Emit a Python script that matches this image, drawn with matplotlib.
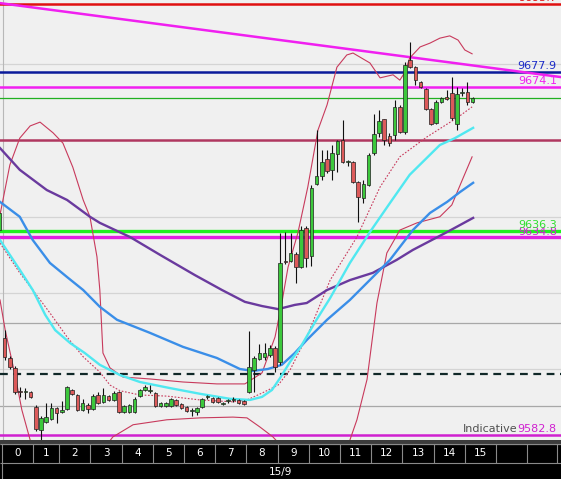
import numpy as np
import matplotlib
matplotlib.use("Agg")
import matplotlib.pyplot as plt

plt.rcParams['font.family'] = ['DejaVu Sans']

# 10-minute candles, index 0..91
opens = [9636.5, 9608.2, 9603.0, 9600.4, 9594.2, 9594.0, 9594.1, 9590.2, 9584.1, 9586.2,
         9587.0, 9589.9, 9588.9, 9589.6, 9594.6, 9593.3, 9589.4, 9590.7, 9589.6, 9593.3,
         9591.5, 9593.0, 9592.0, 9594.1, 9588.9, 9588.9, 9588.9, 9593.0, 9594.6, 9594.4,
         9593.8, 9590.4, 9590.4, 9590.4, 9592.0, 9591.0, 9590.2, 9589.1, 9588.9, 9590.2,
         9592.8, 9592.5, 9592.5, 9591.0, 9591.7, 9592.0, 9592.0, 9591.7, 9594.1, 9599.9,
         9602.7, 9603.3, 9603.8, 9605.6, 9601.9, 9628.2, 9628.4, 9630.3, 9626.8, 9637.1,
         9629.7, 9648.6, 9650.7, 9655.1, 9652.3, 9656.5, 9660.1, 9654.4, 9654.4, 9649.1,
         9644.9, 9648.3, 9656.7, 9662.0, 9665.6, 9661.2, 9661.4, 9668.8, 9662.2, 9681.1,
         9679.2, 9675.3, 9673.5, 9668.2, 9664.6, 9670.1, 9671.4, 9672.4, 9664.3, 9672.4,
         9672.7, 9670.1]
highs = [9641.8, 9610.3, 9603.5, 9600.9, 9595.4, 9595.1, 9594.4, 9590.7, 9587.8, 9591.2,
         9591.2, 9590.2, 9591.7, 9595.7, 9594.9, 9593.6, 9592.3, 9591.2, 9593.6, 9594.1,
         9595.1, 9593.3, 9594.4, 9594.4, 9590.7, 9591.0, 9592.8, 9594.9, 9595.9, 9595.9,
         9594.1, 9591.5, 9591.5, 9592.5, 9592.3, 9591.2, 9590.4, 9589.9, 9590.2, 9592.5,
         9593.3, 9592.8, 9592.8, 9591.5, 9592.3, 9592.8, 9592.3, 9592.0, 9610.1, 9603.5,
         9606.7, 9606.9, 9606.4, 9606.1, 9635.8, 9636.0, 9635.8, 9630.8, 9637.6, 9637.6,
         9648.3, 9662.7, 9657.5, 9657.5, 9658.8, 9660.1, 9665.4, 9654.9, 9654.6, 9649.4,
         9649.6, 9656.7, 9666.9, 9668.0, 9665.6, 9662.0, 9670.6, 9669.3, 9680.6, 9685.8,
         9679.5, 9675.6, 9673.7, 9668.5, 9670.6, 9671.4, 9673.2, 9676.6, 9674.0, 9673.7,
         9675.3, 9671.4]
lows = [9636.0, 9602.5, 9600.1, 9593.6, 9592.8, 9592.3, 9592.5, 9583.9, 9581.5, 9586.0,
        9586.8, 9586.0, 9588.6, 9589.4, 9593.3, 9589.1, 9589.1, 9588.6, 9589.4, 9591.0,
        9591.2, 9591.7, 9591.7, 9588.6, 9588.6, 9588.6, 9588.6, 9592.8, 9594.4, 9593.8,
        9590.2, 9590.2, 9590.2, 9590.2, 9590.4, 9589.6, 9588.9, 9587.8, 9588.1, 9589.9,
        9592.3, 9591.2, 9591.2, 9590.7, 9591.2, 9591.5, 9591.0, 9590.7, 9593.8, 9594.1,
        9602.5, 9602.5, 9603.3, 9599.3, 9601.2, 9627.6, 9628.2, 9622.7, 9626.6, 9626.8,
        9627.1, 9648.3, 9649.6, 9651.5, 9649.6, 9651.7, 9654.1, 9653.3, 9648.9, 9638.6,
        9643.6, 9648.1, 9656.2, 9660.9, 9658.8, 9658.5, 9660.1, 9662.0, 9661.7, 9679.0,
        9674.5, 9673.7, 9668.0, 9664.0, 9664.3, 9669.8, 9670.6, 9665.4, 9662.7, 9671.6,
        9669.3, 9669.8]
closes = [9641.0, 9603.3, 9600.6, 9594.1, 9594.0, 9594.1, 9592.8, 9584.4, 9587.3, 9587.5,
          9589.9, 9588.6, 9589.4, 9595.4, 9593.6, 9589.4, 9591.2, 9589.6, 9593.0, 9591.2,
          9593.3, 9592.0, 9593.8, 9588.9, 9590.4, 9590.7, 9592.3, 9594.6, 9595.4, 9594.5,
          9590.4, 9591.2, 9591.2, 9592.3, 9590.7, 9589.9, 9589.1, 9589.2, 9589.9, 9592.3,
          9592.9, 9591.5, 9591.5, 9591.2, 9591.8, 9592.1, 9591.2, 9591.0, 9600.6, 9603.0,
          9604.3, 9604.3, 9605.6, 9600.6, 9627.9, 9628.1, 9630.5, 9626.8, 9636.5, 9629.2,
          9647.5, 9650.7, 9654.4, 9652.0, 9656.7, 9659.9, 9654.4, 9654.5, 9649.1, 9645.2,
          9648.6, 9656.2, 9661.7, 9665.1, 9660.1, 9659.3, 9668.8, 9662.2, 9679.8, 9679.2,
          9675.8, 9674.0, 9668.2, 9664.3, 9670.1, 9671.1, 9670.9, 9665.9, 9672.2, 9672.5,
          9670.1, 9671.1]

# indicator lines (candle index, price)
cyan_x = [0.1, 2.0, 3.9, 6.4, 8.8, 10.7, 13.6, 16.4, 19.3, 23.2, 27.0, 32.8, 38.6, 44.3, 48.2,
          50.5, 52.4, 54.0, 55.9, 57.8, 60.7, 63.6, 67.4, 71.25, 75.1, 78.9, 81.8, 84.7, 87.6, 91.1]
cyan_y = [9633.9, 9630.0, 9626.1, 9620.8, 9614.3, 9610.3, 9606.9, 9604.3, 9601.2, 9598.5,
          9596.7, 9595.1, 9593.6, 9592.3, 9592.0, 9592.8, 9594.6, 9597.8, 9602.0, 9605.6,
          9612.4, 9618.7, 9627.9, 9636.0, 9643.6, 9651.0, 9654.9, 9658.8, 9660.6, 9663.3]
blue_x = [0.1, 3.9, 6.4, 9.7, 13.0, 16.1, 19.3, 22.6, 28.9, 35.3, 41.8, 46.25, 48.75, 51.6,
          54.3, 56.8, 59.1, 63.0, 67.4, 71.8, 75.1, 79.5, 82.8, 86.1, 88.6, 91.1]
blue_y = [9643.9, 9640.0, 9633.9, 9627.9, 9624.2, 9620.8, 9616.4, 9613.0, 9609.6, 9605.9,
          9603.0, 9600.1, 9599.6, 9600.1, 9601.2, 9604.3, 9607.7, 9613.0, 9618.2, 9624.2,
          9628.7, 9636.5, 9641.0, 9643.9, 9646.5, 9648.9]
purple_x = [0.1, 3.9, 9.1, 13.0, 17.4, 19.3, 25.1, 30.9, 37.6, 42.8, 47.2, 50.5, 53.6, 56.8,
            59.1, 63.0, 67.4, 71.8, 76.4, 79.5, 86.1, 91.1]
purple_y = [9658.0, 9652.3, 9647.0, 9644.4, 9640.0, 9638.4, 9634.7, 9630.0, 9624.7, 9620.8,
            9617.7, 9616.6, 9615.8, 9616.9, 9617.4, 9620.8, 9623.4, 9625.3, 9628.7, 9631.3,
            9636.0, 9639.7]
bb_up_x = [0.1, 2.0, 3.9, 5.9, 7.8, 10.3, 12.2, 14.1, 16.1, 17.4, 18.75, 19.3, 19.9, 21.25,
           23.75, 28.9, 35.3, 41.8, 47.2, 50.5, 53.0, 54.3, 55.5, 57.4, 59.3, 61.25, 63.0, 64.9,
           66.8, 68.0, 71.25, 73.2, 75.7, 77.0, 78.0, 78.9, 80.9, 82.8, 84.7, 86.6, 88.2, 89.5, 90.9]
bb_up_y = [9640.5, 9653.6, 9660.6, 9663.8, 9664.8, 9662.0, 9659.3, 9653.0, 9644.4, 9640.0,
           9629.5, 9620.8, 9604.3, 9600.4, 9598.0, 9597.5, 9596.7, 9596.2, 9596.2, 9599.1,
           9608.5, 9617.4, 9626.8, 9635.8, 9647.8, 9662.7, 9669.3, 9679.2, 9682.4, 9682.9,
           9680.3, 9676.4, 9677.2, 9675.8, 9677.9, 9681.6, 9684.5, 9685.5, 9686.8, 9687.4,
           9686.3, 9683.7, 9682.7]
bb_mid_x = [0.1, 3.9, 6.4, 9.7, 13.0, 16.1, 19.3, 21.25, 23.2, 27.0, 32.2, 38.6, 44.9, 47.6,
            50.5, 53.6, 55.9, 59.1, 63.6, 68.75, 73.2, 77.0, 82.2, 88.2, 90.9]
bb_mid_y = [9633.1, 9625.3, 9620.8, 9614.8, 9608.5, 9603.3, 9599.3, 9595.9, 9594.4, 9593.3,
            9593.0, 9592.0, 9591.5, 9592.0, 9593.8, 9595.9, 9599.9, 9608.5, 9623.4, 9634.7,
            9647.8, 9655.7, 9660.9, 9666.1, 9668.8]
bb_lo_x = [0.1, 1.1, 3.0, 4.3, 5.9, 7.8, 17.4, 19.9, 21.8, 25.7, 32.2, 38.6, 44.9, 47.6, 50.1,
           52.6, 54.9, 57.8, 65.5, 67.4, 68.75, 70.7, 72.6, 74.5, 77.0, 80.3, 84.7, 87.0, 89.0, 90.9]
bb_lo_y = [9618.2, 9610.3, 9598.5, 9589.4, 9581.5, 9571.0, 9571.0, 9578.9, 9582.3, 9585.5,
           9586.8, 9587.3, 9587.5, 9587.3, 9584.9, 9582.3, 9578.9, 9568.4, 9568.4, 9581.5,
           9586.8, 9597.4, 9617.4, 9630.5, 9636.5, 9638.4, 9640.0, 9643.1, 9649.6, 9655.7]

trend_x = [0.0, 108.0]
trend_y = [9696.0, 9676.6]

grid_levels = [9680, 9640, 9620, 9600]
grey_levels = [9612.2, 9590.4]

hour_labels = [str(h) for h in range(16)] + ['', '']
hour_edges = [0.5, 6.5, 11.5, 17.5, 23.5, 29.5, 35.5, 41.5, 47.5, 53.5, 59.5, 65.5,
              71.5, 77.5, 83.5, 89.5, 95.5, 101.5, 107.3]

W, H = 561, 479
fig = plt.figure(figsize=(W / 100, H / 100), dpi=100)
fig.patch.set_facecolor('#f0f0f0')
ax = fig.add_axes([0, 39 / H, 1, 440 / H])
ax.set_facecolor('#f0f0f0')
xlo, xhi = 0.1, 108.0
ax.set_xlim(xlo, xhi)
ax.set_ylim(9581.5, 9696.8)
ax.axis('off')

for g in grid_levels:
    ax.axhline(g, color='#d4d4d4', lw=0.9, zorder=1)
for g in grey_levels:
    ax.axhline(g, color='#a8a8a8', lw=0.9, zorder=1)
ax.axvline(0.6, color='#b8b8b8', lw=0.8, zorder=1)

# horizontal levels
ax.axhline(9695.7, color='#e01010', lw=1.8, zorder=2)
ax.axhline(9677.9, color='#0a1a9a', lw=1.8, zorder=2)
ax.axhline(9674.1, color='#f020f0', lw=1.8, zorder=2)
ax.axhline(9671.1, color='#20b020', lw=0.9, zorder=2)
ax.axhline(9660.1, color='#b03860', lw=1.8, zorder=2)
ax.axhline(9636.3, color='#20f020', lw=2.4, zorder=2)
ax.axhline(9634.8, color='#e020e0', lw=2.4, zorder=2)
ax.axhline(9598.8, color='#102828', lw=1.6, ls=(0, (3.5, 2.5)), zorder=2)
ax.axhline(9582.8, color='#d020d0', lw=1.8, zorder=2)

ax.plot(trend_x, trend_y, color='#f020f0', lw=1.8, zorder=2)

# bands and averages
band_col = '#c83a5c'
ax.plot(bb_up_x, bb_up_y, color=band_col, lw=0.8, zorder=3)
ax.plot(bb_lo_x, bb_lo_y, color=band_col, lw=0.8, zorder=3)
ax.plot(bb_mid_x, bb_mid_y, color=band_col, lw=0.8, ls=(0, (1.5, 1.5)), zorder=3)
ax.plot(purple_x, purple_y, color='#6a3a9e', lw=1.7, zorder=3)
ax.plot(blue_x, blue_y, color='#3a8ee8', lw=1.7, zorder=3)
ax.plot(cyan_x, cyan_y, color='#50e8f0', lw=1.7, zorder=3)

# candles
o = np.array(opens); c = np.array(closes)
hi = np.array(highs); lo = np.array(lows)
idx = np.arange(len(o))
up = c >= o
ax.vlines(idx, lo, hi, color='#101010', lw=0.8, zorder=4)
bottoms = np.minimum(o, c)
heights = np.maximum(np.abs(c - o), 0.3)
ax.bar(idx[up], heights[up], bottom=bottoms[up], width=0.7, color='#3cc83c',
       edgecolor='#202020', lw=0.5, zorder=5)
ax.bar(idx[~up], heights[~up], bottom=bottoms[~up], width=0.7, color='#dc5a5a',
       edgecolor='#202020', lw=0.5, zorder=5)

# price labels on the right
lx = 107.2
ax.text(lx, 9695.9, '9695.7', color='#e01010', fontsize=8, ha='right', va='bottom', zorder=6)
ax.text(lx, 9678.1, '9677.9', color='#1a2ac8', fontsize=8, ha='right', va='bottom', zorder=6)
ax.text(lx, 9674.3, '9674.1', color='#f020f0', fontsize=8, ha='right', va='bottom', zorder=6)
ax.text(lx, 9636.5, '9636.3', color='#30e030', fontsize=8, ha='right', va='bottom', zorder=6)
ax.text(lx, 9634.6, '9634.8', color='#d020d0', fontsize=8, ha='right', va='bottom', zorder=5)
ax.text(lx, 9583.0, '9582.8', color='#d020d0', fontsize=8, ha='right', va='bottom', zorder=6)
ax.text(99.7, 9583.0, 'Indicative', color='#505050', fontsize=8, ha='right', va='bottom', zorder=6)

# time axis bar
bx = fig.add_axes([0, 0, 1, 39 / H])
bx.set_facecolor('black')
bx.set_xlim(xlo, xhi)
bx.set_ylim(0, 39)
bx.axis('off')
bx.add_patch(plt.Rectangle((xlo, 35), xhi - xlo, 4, color='#3c3c3c', zorder=1))
bx.add_patch(plt.Rectangle((xlo, 0), xhi - xlo, 35, color='black', zorder=0))
bx.hlines([35, 16], xlo, xhi, color='#8a8a8a', lw=0.8, zorder=2)
bx.vlines(hour_edges, 16, 35, color='#8a8a8a', lw=0.8, zorder=2)
bx.vlines([hour_edges[0]], 0, 16, color='#8a8a8a', lw=0.8, zorder=2)
for i, lab in enumerate(hour_labels):
    mid = (hour_edges[i] + hour_edges[i + 1]) / 2
    bx.text(mid, 25.5, lab, color='white', fontsize=7.5, ha='center', va='center')
bx.text(54.0, 7, '15/9', color='white', fontsize=7.5, ha='center', va='center')

fig.savefig('out.png', dpi=100, facecolor=fig.get_facecolor())
